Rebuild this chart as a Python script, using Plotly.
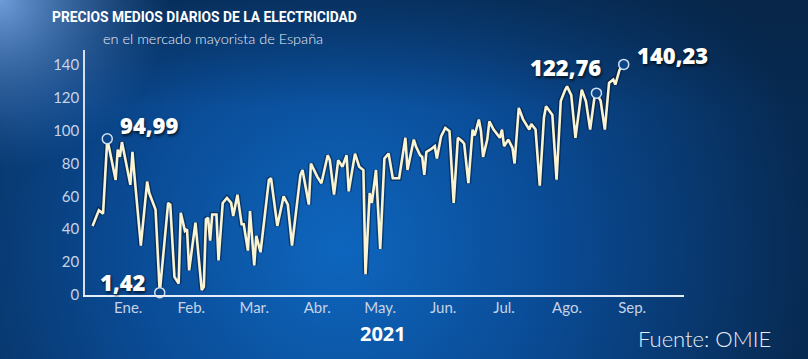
import base64
import pandas as pd
import plotly.graph_objects as go

# ---- data ----
fechas = [
    "2021-01-01", "2021-01-04", "2021-01-06", "2021-01-08", "2021-01-12", "2021-01-13", "2021-01-14",
    "2021-01-15", "2021-01-19", "2021-01-20", "2021-01-21", "2021-01-24", "2021-01-27", "2021-01-28",
    "2021-01-31", "2021-02-02", "2021-02-06", "2021-02-07", "2021-02-09", "2021-02-11", "2021-02-12",
    "2021-02-14", "2021-02-15", "2021-02-16", "2021-02-19", "2021-02-22", "2021-02-23", "2021-02-24",
    "2021-02-25", "2021-02-26", "2021-02-27", "2021-03-01", "2021-03-02", "2021-03-04", "2021-03-06",
    "2021-03-08", "2021-03-09", "2021-03-11", "2021-03-13", "2021-03-14", "2021-03-16", "2021-03-17",
    "2021-03-19", "2021-03-20", "2021-03-22", "2021-03-26", "2021-03-27", "2021-03-30", "2021-04-02",
    "2021-04-04", "2021-04-06", "2021-04-10", "2021-04-11", "2021-04-14", "2021-04-15", "2021-04-18",
    "2021-04-20", "2021-04-23", "2021-04-24", "2021-04-26", "2021-04-28", "2021-04-30", "2021-05-02",
    "2021-05-03", "2021-05-06", "2021-05-08", "2021-05-10", "2021-05-11", "2021-05-13", "2021-05-14",
    "2021-05-16", "2021-05-18", "2021-05-20", "2021-05-22", "2021-05-24", "2021-05-27", "2021-05-30",
    "2021-05-31", "2021-06-03", "2021-06-04", "2021-06-06", "2021-06-07", "2021-06-08", "2021-06-09",
    "2021-06-11", "2021-06-13", "2021-06-14", "2021-06-16", "2021-06-18", "2021-06-20", "2021-06-22",
    "2021-06-24", "2021-06-26", "2021-06-27", "2021-06-29", "2021-07-01", "2021-07-02", "2021-07-04",
    "2021-07-05", "2021-07-06", "2021-07-08", "2021-07-09", "2021-07-11", "2021-07-12", "2021-07-14",
    "2021-07-15", "2021-07-16", "2021-07-18", "2021-07-20", "2021-07-21", "2021-07-23", "2021-07-25",
    "2021-07-28", "2021-07-29", "2021-07-31", "2021-08-02", "2021-08-04", "2021-08-05", "2021-08-08",
    "2021-08-10", "2021-08-12", "2021-08-14", "2021-08-15", "2021-08-17", "2021-08-19", "2021-08-22",
    "2021-08-24", "2021-08-26", "2021-08-28", "2021-08-29", "2021-08-31", "2021-09-02", "2021-09-04",
    "2021-09-06", "2021-09-07", "2021-09-09", "2021-09-11",
]
precios = [
    42, 51.5, 49.5, 94.99, 70, 88.5, 84,
    93, 67, 87, 72, 30, 69, 62,
    52, 1.42, 56, 55, 11, 7, 50,
    39, 40, 15, 44, 3, 5, 46,
    47, 33, 49, 49, 21, 56, 59,
    56, 48, 61, 43, 43, 27, 51,
    18, 36, 26, 70, 71, 42, 60,
    55, 30, 73, 76, 55, 80, 72,
    68, 85, 82, 61, 82, 78, 85,
    63, 86, 78, 76, 12.6, 62, 56,
    76, 28, 83, 86, 71, 71, 95.6,
    76, 94.5, 90.5, 85, 84, 73, 87,
    88.5, 90.5, 83, 96.5, 101.6, 99.6, 56,
    95.6, 93.5, 92, 68, 100.6, 97, 106.7,
    99.6, 84, 94.5, 105.6, 100.6, 99, 95.6,
    100.6, 90.5, 94.5, 89.5, 80, 113.8, 107,
    100.6, 104, 100.6, 66.5, 108, 114.8, 109.5,
    70.2, 118, 124.5, 126.9, 121.5, 95.6, 124.9,
    117.8, 100.6, 119.8, 122.76, 118, 100.6, 129,
    131, 128, 137, 140.23,
]

destacados_fecha = ["2021-01-08", "2021-02-02", "2021-08-29", "2021-09-11"]
destacados_valor = [94.99, 1.42, 122.76, 140.23]
destacados_texto = ["94,99", "1,42", "122,76", "140,23"]

meses_fecha = ["2021-01-18", "2021-02-17", "2021-03-19", "2021-04-18", "2021-05-18",
               "2021-06-17", "2021-07-16", "2021-08-15", "2021-09-15"]
meses_texto = ["Ene.", "Feb.", "Mar.", "Abr.", "May.", "Jun.", "Jul.", "Ago.", "Sep."]
y_ticks = [0, 20, 40, 60, 80, 100, 120, 140]

titulo = "PRECIOS MEDIOS DIARIOS DE LA ELECTRICIDAD"
subtitulo = "en el mercado mayorista de España"
anio = "2021"
fuente = "Fuente: OMIE"

# ---- layout geometry ----
W, H = 808, 359
ML, MR, MT, MB = 85, 124, 50, 64
PW, PH = W - ML - MR, H - MT - MB

# background gradient (SVG)
svg = f"""<svg xmlns='http://www.w3.org/2000/svg' width='{W}' height='{H}' viewBox='0 0 {W} {H}' preserveAspectRatio='none'>
<defs>
<radialGradient id='g' cx='340' cy='250' r='470' gradientUnits='userSpaceOnUse'>
<stop offset='0' stop-color='#0e66be'/>
<stop offset='0.45' stop-color='#0a4b95'/>
<stop offset='1' stop-color='#072a52'/>
</radialGradient>
<radialGradient id='c' cx='0' cy='0' r='170' gradientUnits='userSpaceOnUse'>
<stop offset='0' stop-color='#79a9e8' stop-opacity='0.9'/>
<stop offset='1' stop-color='#3a78c8' stop-opacity='0'/>
</radialGradient>
<linearGradient id='t' x1='0' y1='0' x2='0' y2='1'>
<stop offset='0' stop-color='#06213f' stop-opacity='0.55'/>
<stop offset='0.3' stop-color='#06213f' stop-opacity='0'/>
</linearGradient>
</defs>
<rect width='{W}' height='{H}' fill='url(#g)'/>
<rect width='{W}' height='{H}' fill='url(#t)'/>
<rect width='{W}' height='{H}' fill='url(#c)'/>
</svg>"""
bg_uri = "data:image/svg+xml;base64," + base64.b64encode(svg.encode()).decode()

x = pd.to_datetime(fechas)

fig = go.Figure()
# soft shadow of the line
fig.add_trace(go.Scatter(x=x, y=precios, mode="lines",
                         line=dict(color="rgba(0,15,40,0.45)", width=5.5),
                         hoverinfo="skip", showlegend=False))
fig.add_trace(go.Scatter(x=x, y=precios, mode="lines",
                         line=dict(color="#fbf4d2", width=2.6),
                         showlegend=False))
fig.add_trace(go.Scatter(x=pd.to_datetime(destacados_fecha), y=destacados_valor, mode="markers",
                         marker=dict(size=10, color="#0b4688",
                                     line=dict(color="#cfe0f2", width=1.5)),
                         showlegend=False, cliponaxis=False))

lab_font = dict(family="Open Sans, sans-serif", size=22, color="white", weight=800,
                shadow="1px 2px 3px rgba(0,0,0,0.7)")
offsets = [
    dict(xanchor="left", xshift=11, yshift=14),
    dict(xanchor="right", xshift=-12, yshift=11),
    dict(xanchor="right", xshift=7, yshift=26),
    dict(xanchor="left", xshift=11, yshift=9),
]
for f, v, t, o in zip(destacados_fecha, destacados_valor, destacados_texto, offsets):
    fig.add_annotation(x=f, y=v, xref="x", yref="y", text=t, showarrow=False,
                       yanchor="middle", font=lab_font, **o)

fig.add_annotation(x=0, y=1, xref="paper", yref="paper", text=f"<b>{titulo}</b>",
                   showarrow=False, xanchor="center", yanchor="middle",
                   xshift=204 - ML, yshift=MT - 17,
                   font=dict(family="Roboto, sans-serif", size=13.8, color="white"))
fig.add_annotation(x=0, y=1, xref="paper", yref="paper", text=subtitulo,
                   showarrow=False, xanchor="center", yanchor="middle",
                   xshift=213 - ML, yshift=MT - 38,
                   font=dict(family="Lato, sans-serif", size=14.5, color="#e8eef6", weight=300))
fig.add_annotation(x=0, y=0, xref="paper", yref="paper", text=f"<b>{anio}</b>",
                   showarrow=False, xanchor="center", yanchor="middle",
                   xshift=383 - ML, yshift=-(333 - (H - MB)),
                   font=dict(family="Open Sans, sans-serif", size=20, color="white"))
fig.add_annotation(x=0, y=0, xref="paper", yref="paper", text=fuente,
                   showarrow=False, xanchor="center", yanchor="middle",
                   xshift=704 - ML, yshift=-(338 - (H - MB)),
                   font=dict(family="Lato, sans-serif", size=22, color="#e8eef6", weight=300))

fig.update_layout(
    width=W, height=H,
    margin=dict(l=ML, r=MR, t=MT, b=MB, pad=0),
    paper_bgcolor="#0a3a74",
    plot_bgcolor="rgba(0,0,0,0)",
    images=[dict(source=bg_uri, xref="paper", yref="paper",
                 x=-ML / PW, y=1 + MT / PH, sizex=W / PW, sizey=H / PH,
                 xanchor="left", yanchor="top", sizing="stretch", layer="below")],
    xaxis=dict(range=["2020-12-28 09:36", "2021-10-09 16:48"], tickvals=meses_fecha,
               ticktext=meses_texto, showgrid=False, zeroline=False, showline=True,
               linecolor="#e4edf8", linewidth=2, ticks="", ticklabelstandoff=-2,
               tickfont=dict(family="Lato, sans-serif", size=15, color="#c6d3e6")),
    yaxis=dict(range=[0, 149], tickvals=y_ticks, showgrid=False, zeroline=False,
               showline=True, linecolor="#d5e0ee", linewidth=1.5, ticks="",
               ticklabelstandoff=1,
               tickfont=dict(family="Lato, sans-serif", size=15, color="#c6d3e6")),
    showlegend=False,
)

fig.write_html("out.html", config={"displayModeBar": False},
               post_script="document.body.style.margin='0';document.body.style.background='#0a3a74';")
